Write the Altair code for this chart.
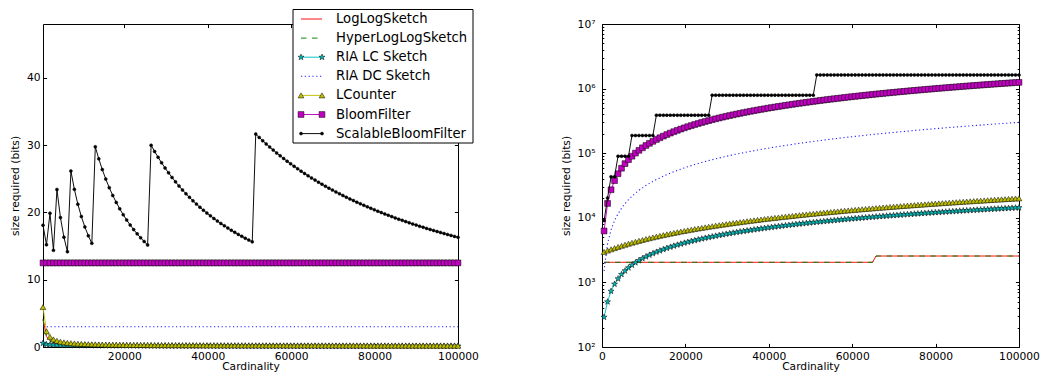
import altair as alt
import pandas as pd

# ---------------- data ----------------
cardinality = [
    500, 1336, 2172, 3008, 3845, 4681, 5517, 6353, 7189, 8025,
    8861, 9697, 10534, 11370, 12206, 13042, 13878, 14714, 15550, 16387,
    17223, 18059, 18895, 19731, 20567, 21403, 22239, 23076, 23912, 24748,
    25584, 26420, 27256, 28092, 28929, 29765, 30601, 31437, 32273, 33109,
    33945, 34782, 35618, 36454, 37290, 38126, 38962, 39798, 40634, 41471,
    42307, 43143, 43979, 44815, 45651, 46487, 47324, 48160, 48996, 49832,
    50668, 51504, 52340, 53176, 54013, 54849, 55685, 56521, 57357, 58193,
    59029, 59866, 60702, 61538, 62374, 63210, 64046, 64882, 65718, 66555,
    67391, 68227, 69063, 69899, 70735, 71571, 72408, 73244, 74080, 74916,
    75752, 76588, 77424, 78261, 79097, 79933, 80769, 81605, 82441, 83277,
    84113, 84950, 85786, 86622, 87458, 88294, 89130, 89966, 90803, 91639,
    92475, 93311, 94147, 94983, 95819, 96655, 97492, 98328, 99164, 100000,
]

series_names = ["LogLogSketch", "HyperLogLogSketch", "RIA LC Sketch", "RIA DC Sketch",
                "LCounter", "BloomFilter", "ScalableBloomFilter"]

# total bits
loglog_bits = [2048] * 78 + [2560] * 42
hyperloglog_bits = [2048] * 78 + [2560] * 42
ria_lc_bits = [
    290, 501, 731, 942, 1141, 1330, 1511, 1686, 1856, 2022,
    2184, 2343, 2498, 2651, 2802, 2950, 3097, 3241, 3384, 3525,
    3665, 3803, 3939, 4074, 4208, 4340, 4472, 4602, 4731, 4859,
    4986, 5112, 5237, 5361, 5485, 5607, 5729, 5850, 5971, 6091,
    6210, 6329, 6447, 6565, 6682, 6798, 6914, 7030, 7145, 7259,
    7373, 7487, 7600, 7712, 7824, 7935, 8046, 8157, 8267, 8377,
    8487, 8596, 8704, 8812, 8920, 9028, 9135, 9241, 9348, 9454,
    9559, 9665, 9770, 9874, 9978, 10082, 10186, 10289, 10392, 10495,
    10597, 10699, 10801, 10902, 11003, 11104, 11205, 11305, 11405, 11505,
    11604, 11703, 11802, 11900, 11998, 12096, 12194, 12292, 12389, 12486,
    12583, 12679, 12776, 12872, 12967, 13063, 13158, 13253, 13348, 13442,
    13536, 13630, 13724, 13818, 13911, 14004, 14097, 14190, 14282, 14375,
]
lcounter_bits = [
    2966, 3109, 3252, 3395, 3538, 3681, 3824, 3968, 4111, 4254,
    4397, 4540, 4683, 4826, 4970, 5113, 5256, 5399, 5542, 5685,
    5829, 5972, 6115, 6258, 6401, 6544, 6687, 6831, 6974, 7117,
    7260, 7403, 7546, 7690, 7833, 7976, 8119, 8262, 8405, 8548,
    8692, 8835, 8978, 9121, 9264, 9407, 9551, 9694, 9837, 9980,
    10123, 10266, 10409, 10553, 10696, 10839, 10982, 11125, 11268, 11412,
    11555, 11698, 11841, 11984, 12127, 12270, 12414, 12557, 12700, 12843,
    12986, 13129, 13273, 13416, 13559, 13702, 13845, 13988, 14131, 14275,
    14418, 14561, 14704, 14847, 14990, 15134, 15277, 15420, 15563, 15706,
    15849, 15992, 16136, 16279, 16422, 16565, 16708, 16851, 16995, 17138,
    17281, 17424, 17567, 17710, 17853, 17997, 18140, 18283, 18426, 18569,
    18712, 18856, 18999, 19142, 19285, 19428, 19571, 19715, 19858, 20001,
]
scalable_bloom_bits = ([9050, 20300] + [43200] * 2 + [90000] * 4 + [188000] * 7
                       + [388000] * 16 + [792000] * 30 + [1630000] * 59)
# bits per element (flat in the left panel)
ria_dc_bits_per_item = [3.0] * 120
bloom_bits_per_item = [12.5] * 120

left_y_ticks = [0, 10, 20, 30, 40]
left_x_ticks = [20000, 40000, 60000, 80000, 100000]
right_x_ticks = [0, 20000, 40000, 60000, 80000, 100000]
right_y_ticks = [1e2, 1e3, 1e4, 1e5, 1e6, 1e7]
right_y_minor = [m * 10 ** e for e in range(2, 7) for m in range(2, 10)]

# ---------------- table ----------------
rows = []
for i, c in enumerate(cardinality):
    totals = {
        "LogLogSketch": loglog_bits[i],
        "HyperLogLogSketch": hyperloglog_bits[i],
        "RIA LC Sketch": ria_lc_bits[i],
        "RIA DC Sketch": ria_dc_bits_per_item[i] * c,
        "LCounter": lcounter_bits[i],
        "BloomFilter": bloom_bits_per_item[i] * c,
        "ScalableBloomFilter": scalable_bloom_bits[i],
    }
    for s in series_names:
        rows.append({"card": c, "series": s, "bits": totals[s], "per": totals[s] / c})
df = pd.DataFrame(rows)

STAR = ("M0,-1L0.235,-0.324L0.951,-0.309L0.38,0.124L0.588,0.809L0,0.4"
        "L-0.588,0.809L-0.38,0.124L-0.951,-0.309L-0.235,-0.324Z")
styles = {
    "LogLogSketch": dict(color="#ff0000", dash=None, shape=None, lw=0.95),
    "HyperLogLogSketch": dict(color="#008000", dash=[5.5, 5.5], shape=None, lw=0.95),
    "RIA LC Sketch": dict(color="#00bfbf", dash=None, shape=STAR, face="#00bfbf", size=40, lw=0.95),
    "RIA DC Sketch": dict(color="#2020ff", dash=[1.2, 2.6], shape=None, lw=1.1),
    "LCounter": dict(color="#bfbf00", dash=None, shape="triangle-up", face="#bfbf00", size=34, lw=0.95),
    "BloomFilter": dict(color="#bf00bf", dash=None, shape="square", face="#bf00bf", size=34, lw=0.95),
    "ScalableBloomFilter": dict(color="#000000", dash=None, shape="circle", face="#000000", size=9, lw=0.95),
}

FONT = "DejaVu Sans"
FS = 10.7


def data_layers(ycol, xsc, ysc):
    out = []
    for s in series_names:
        st = styles[s]
        sub = alt.Chart(df).transform_filter(alt.datum.series == s)
        enc = dict(x=alt.X("card:Q", scale=xsc, axis=None),
                   y=alt.Y(f"{ycol}:Q", scale=ysc, axis=None))
        lk = dict(color=st["color"], strokeWidth=st["lw"])
        if st["dash"]:
            lk["strokeDash"] = st["dash"]
        out.append(sub.mark_line(**lk).encode(**enc))
        if st["shape"]:
            out.append(sub.mark_point(shape=st["shape"], filled=True, fill=st["face"],
                                      stroke="black", strokeWidth=0.5, size=st["size"],
                                      opacity=1).encode(**enc))
    return out


def axis_layer(ycol, xsc, ysc, xaxis=None, yaxis=None):
    sub = alt.Chart(df).transform_filter(alt.datum.series == "BloomFilter")
    return sub.mark_point(opacity=0, size=1).encode(
        x=alt.X("card:Q", scale=xsc, axis=xaxis),
        y=alt.Y(f"{ycol}:Q", scale=ysc, axis=yaxis))


def tick_axis(orient, offset, values, size):
    return alt.Axis(orient=orient, offset=offset, values=values, labels=False,
                    domain=False, grid=False, ticks=True, tickSize=size, title=None)


# ---------------- left panel ----------------
LW_, LH_ = 415, 323
lx = alt.Scale(domain=[500, 100000], nice=False, zero=False)
ly = alt.Scale(domain=[0, 48], nice=False, zero=False)

left_axes = [
    axis_layer("per", lx, ly,
               xaxis=alt.Axis(orient="bottom", values=left_x_ticks, format="d", ticks=False,
                              domain=False, grid=False, labelPadding=4, title="Cardinality",
                              titlePadding=1, labelOverlap=False, labelFlush=False),
               yaxis=alt.Axis(orient="left", values=left_y_ticks, ticks=False, domain=False,
                              grid=False, labelPadding=3, title="size required (bits)",
                              titlePadding=6)),
    axis_layer("per", lx, ly, yaxis=tick_axis("right", -LW_, left_y_ticks, 3.6)),
    axis_layer("per", lx, ly, yaxis=tick_axis("left", -LW_, left_y_ticks, 3.6)),
    axis_layer("per", lx, ly, xaxis=tick_axis("top", -LH_, left_x_ticks, 3.6)),
    axis_layer("per", lx, ly, xaxis=tick_axis("bottom", -LH_, left_x_ticks, 3.6)),
]
left_main = alt.layer(*data_layers("per", lx, ly), *left_axes).resolve_axis(
    x="independent", y="independent")

# legend drawn with marks, rows placed by a point scale
leg_df = pd.DataFrame({"series": series_names})
leg_y = alt.Scale(type="point", domain=series_names, range=[-5, 109.6], padding=0)
legend_layers = [
    alt.Chart(pd.DataFrame({"k": [0]})).mark_rect(fill="white", stroke="black", strokeWidth=1)
    .encode(x=alt.value(250), x2=alt.value(430), y=alt.value(-14.5), y2=alt.value(119))
]
for s in series_names:
    st = styles[s]
    sub = alt.Chart(leg_df).transform_filter(alt.datum.series == s)
    yenc = alt.Y("series:N", scale=leg_y, axis=None)
    rk = dict(color=st["color"], strokeWidth=st["lw"])
    if st["dash"]:
        rk["strokeDash"] = st["dash"]
    legend_layers.append(sub.mark_rule(**rk).encode(x=alt.value(258), x2=alt.value(279), y=yenc))
    if st["shape"]:
        for xv in (258, 279):
            legend_layers.append(sub.mark_point(shape=st["shape"], filled=True, fill=st["face"],
                                                stroke="black", strokeWidth=0.5, size=st["size"],
                                                opacity=1).encode(x=alt.value(xv), y=yenc))
    legend_layers.append(sub.mark_text(align="left", baseline="middle", font=FONT, fontSize=13.2,
                                       color="black").encode(x=alt.value(293), y=yenc,
                                                             text="series:N"))

left = alt.layer(left_main, alt.layer(*legend_layers)).resolve_scale(y="independent").properties(
    width=LW_, height=LH_)

# ---------------- right panel ----------------
RW_, RH_ = 417, 323
rx = alt.Scale(domain=[0, 100000], nice=False, zero=False)
ry = alt.Scale(type="log", domain=[100, 1e7], nice=False)
sup = "['\u2070','\u00b9','\u00b2','\u00b3','\u2074','\u2075','\u2076','\u2077']"
right_axes = [
    axis_layer("bits", rx, ry,
               xaxis=alt.Axis(orient="bottom", values=right_x_ticks, format="d", ticks=False,
                              domain=False, grid=False, labelPadding=4, title="Cardinality",
                              titlePadding=1, labelOverlap=False, labelFlush=False),
               yaxis=alt.Axis(orient="left", values=right_y_ticks, ticks=False, domain=False,
                              grid=False, labelPadding=7, title="size required (bits)",
                              titlePadding=6, labelOverlap=False,
                              labelExpr="'10' + " + sup + "[round(log(datum.value)/LN10)]")),
    axis_layer("bits", rx, ry, yaxis=tick_axis("right", -RW_, right_y_ticks, 3.6)),
    axis_layer("bits", rx, ry, yaxis=tick_axis("left", -RW_, right_y_ticks, 3.6)),
    axis_layer("bits", rx, ry, yaxis=tick_axis("right", -RW_, right_y_minor, 1.8)),
    axis_layer("bits", rx, ry, yaxis=tick_axis("left", -RW_, right_y_minor, 1.8)),
    axis_layer("bits", rx, ry, xaxis=tick_axis("top", -RH_, right_x_ticks, 3.6)),
    axis_layer("bits", rx, ry, xaxis=tick_axis("bottom", -RH_, right_x_ticks, 3.6)),
]
right = alt.layer(*data_layers("bits", rx, ry), *right_axes).resolve_axis(
    x="independent", y="independent").properties(width=RW_, height=RH_)

chart = (
    alt.hconcat(left, right, spacing=80)
    .properties(padding={"left": 0, "top": 0, "right": 0, "bottom": 0}, background="white")
    .configure_view(stroke="black", strokeWidth=1)
    .configure_axis(labelFont=FONT, titleFont=FONT, labelFontSize=FS, titleFontSize=FS,
                    labelColor="black", titleColor="black", titleFontWeight="normal",
                    tickColor="black", tickWidth=1)
)

chart.save("out.html", embed_options={"renderer": "svg", "actions": False})
